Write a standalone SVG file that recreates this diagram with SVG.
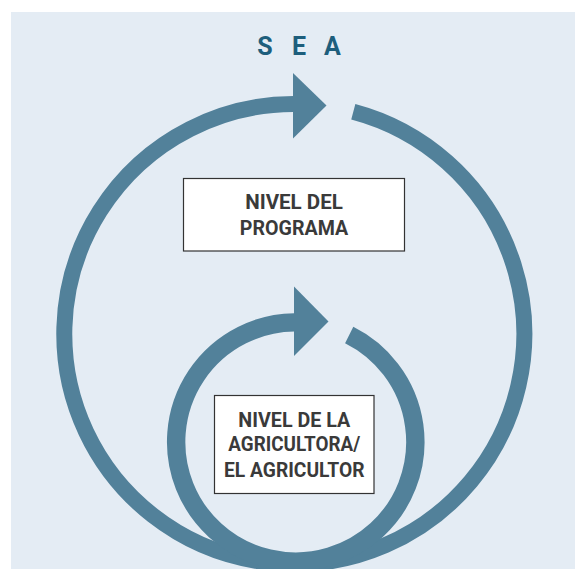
<svg xmlns="http://www.w3.org/2000/svg" width="575" height="569" viewBox="0 0 575 569">
<defs>
<style>
.ring{fill:none;stroke:#52819a;}
.head{fill:#52819a;}
.box{fill:#ffffff;stroke:#333333;stroke-width:1.2;}
.lbl{font-family:Roboto,"Liberation Sans",sans-serif;font-weight:bold;font-size:20px;fill:#3a3a3a;text-anchor:middle;}
.title{font-family:Roboto,"Liberation Sans",sans-serif;font-weight:bold;font-size:25px;fill:#1d5e7c;text-anchor:middle;}
</style>
</defs>
<rect x="11" y="12" width="564" height="557" fill="#e4ecf4"/>
<text class="title" x="265 299 332.5" y="55">SEA</text>
<g id="connectors">
<path id="outer-cycle" class="ring" stroke-width="16" d="M 353.3 111.7 A 230 230 0 1 1 293.5 104"/>
<polygon class="head" points="293,73 326.5,105.5 293,138.5"/>
<path id="inner-cycle" class="ring" stroke-width="18.4" d="M 349.2 335 A 119.6 119.6 0 1 1 294.3 322.4"/>
<polygon class="head" points="294,286.5 328.5,321.5 294,356"/>
</g>
<g id="node-programa">
<rect class="box" x="183.5" y="178.5" width="221" height="72.5"/>
<text class="lbl" x="294" y="209.3" textLength="97.7" lengthAdjust="spacingAndGlyphs">NIVEL DEL</text>
<text class="lbl" x="294" y="235" textLength="108.3" lengthAdjust="spacingAndGlyphs">PROGRAMA</text>
</g>
<g id="node-agricultor">
<rect class="box" x="214.5" y="395.5" width="159.5" height="98"/>
<text class="lbl" x="294.3" y="427.3" textLength="112" lengthAdjust="spacingAndGlyphs">NIVEL DE LA</text>
<text class="lbl" x="294.3" y="451.3" textLength="132" lengthAdjust="spacingAndGlyphs">AGRICULTORA/</text>
<text class="lbl" x="294.3" y="476.5" textLength="140.5" lengthAdjust="spacingAndGlyphs">EL AGRICULTOR</text>
</g>
</svg>
